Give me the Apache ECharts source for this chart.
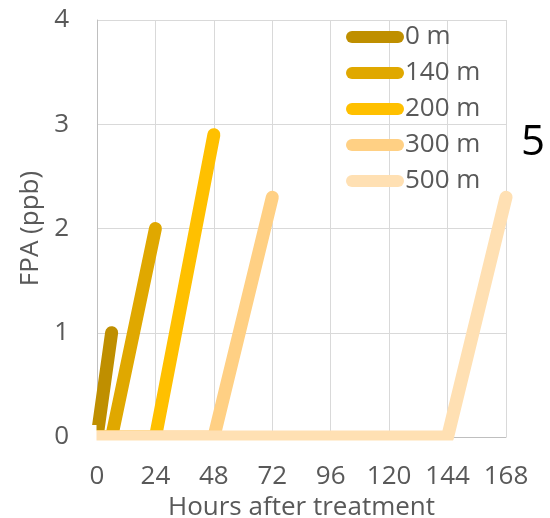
<!DOCTYPE html>
<html>
<head>
<meta charset="utf-8">
<script src="https://cdn.jsdelivr.net/npm/echarts@6/dist/echarts.min.js"></script>
<style>html,body{margin:0;padding:0;background:#fff;}#c{width:550px;height:518px;}</style>
</head>
<body>
<div id="c"></div>
<script>
const seriesNames = ['0 m', '140 m', '200 m', '300 m', '500 m'];
const hours0 = [0, 6];
const fpa0 = [0, 1.0];
const hours140 = [0, 6, 24];
const fpa140 = [0, 0, 2.0];
const hours200 = [0, 6, 24, 48];
const fpa200 = [0, 0, 0, 2.9];
const hours300 = [0, 6, 24, 48, 72];
const fpa300 = [0, 0, 0, 0, 2.3];
const hours500 = [0, 6, 24, 48, 72, 144, 168];
const fpa500 = [0, 0, 0, 0, 0, 0, 2.3];
const xTicks = [0, 24, 48, 72, 96, 120, 144, 168];
const yTicks = [0, 1, 2, 3, 4];
const panelLabel = '5';

const colors = ['#BF8F00', '#E0A800', '#FFC000', '#FFD084', '#FFE0B3'];
const allHours = [hours0, hours140, hours200, hours300, hours500];
const allFpa = [fpa0, fpa140, fpa200, fpa300, fpa500];
const font = 'Open Sans';
const txt = '#595959';
const fs = 26;

const chart = echarts.init(document.getElementById('c'), null, {renderer: 'canvas'});
const capsule = 'path://M6,0 L52,0 A6,6 0 0 1 52,12 L6,12 A6,6 0 0 1 6,0 Z';
chart.setOption({
  animation: false,
  color: colors,
  grid: {left: 97, right: 44, top: 20, bottom: 81, outerBoundsMode: 'none', containLabel: false},
  legend: {
    orient: 'vertical', left: 346, top: 24, padding: 0, itemWidth: 58, itemHeight: 12, itemGap: 10,
    icon: capsule,
    textStyle: {fontFamily: font, fontSize: fs, color: txt, lineHeight: 25.5, padding: [0, 0, 0, -4]},
    data: seriesNames.map((n, i) => ({name: n, icon: capsule, itemStyle: {color: colors[i]}}))
  },
  xAxis: {
    type: 'value', min: xTicks[0], max: xTicks[xTicks.length - 1], interval: 24,
    name: 'Hours after treatment', nameLocation: 'middle', nameGap: 53,
    nameTextStyle: {fontFamily: font, fontSize: fs, color: txt},
    axisLine: {show: true, lineStyle: {color: '#BFBFBF', width: 1}},
    axisTick: {show: false},
    axisLabel: {fontFamily: font, fontSize: fs, color: txt, margin: 27},
    splitLine: {show: true, lineStyle: {color: '#D9D9D9', width: 1}}
  },
  yAxis: {
    type: 'value', min: yTicks[0], max: yTicks[yTicks.length - 1], interval: 1,
    name: 'FPA (ppb)', nameLocation: 'middle', nameGap: 52,
    nameTextStyle: {fontFamily: font, fontSize: fs, color: txt},
    axisLine: {show: true, lineStyle: {color: '#BFBFBF', width: 1}},
    axisTick: {show: false},
    axisLabel: {fontFamily: font, fontSize: fs, color: txt, margin: 28},
    splitLine: {show: true, lineStyle: {color: '#D9D9D9', width: 1}}
  },
  series: seriesNames.map((n, i) => ({
    name: n, type: 'line', showSymbol: false, symbol: 'none', clip: true,
    data: allHours[i].map((h, j) => [h, allFpa[i][j]]),
    lineStyle: {color: colors[i], width: 13, cap: 'round', join: 'round'},
    itemStyle: {color: colors[i]}
  }))
});

// White masks so thick lines are cut at the plot edge, as in the original
const origin = chart.convertToPixel({gridIndex: 0}, [xTicks[0], yTicks[0]]);
const far = chart.convertToPixel({gridIndex: 0}, [xTicks[xTicks.length - 1], yTicks[0]]);
const ox = Math.round(origin[0]), oy = Math.round(origin[1]), fx = Math.round(far[0]);
chart.setOption({
  graphic: [{
    type: 'text', left: 521, top: 122,
    style: {text: panelLabel, font: '42px "Open Sans"', fill: '#000'}
  }, {
    type: 'rect', z: 100, silent: true,
    shape: {x: ox - 12, y: oy - 12, width: 11.5, height: 24},
    style: {fill: '#fff'}
  }, {
    type: 'rect', z: 100, silent: true,
    shape: {x: ox - 12, y: oy + 3.5, width: fx - ox + 24, height: 8},
    style: {fill: '#fff'}
  }]
});
</script>
</body>
</html>
